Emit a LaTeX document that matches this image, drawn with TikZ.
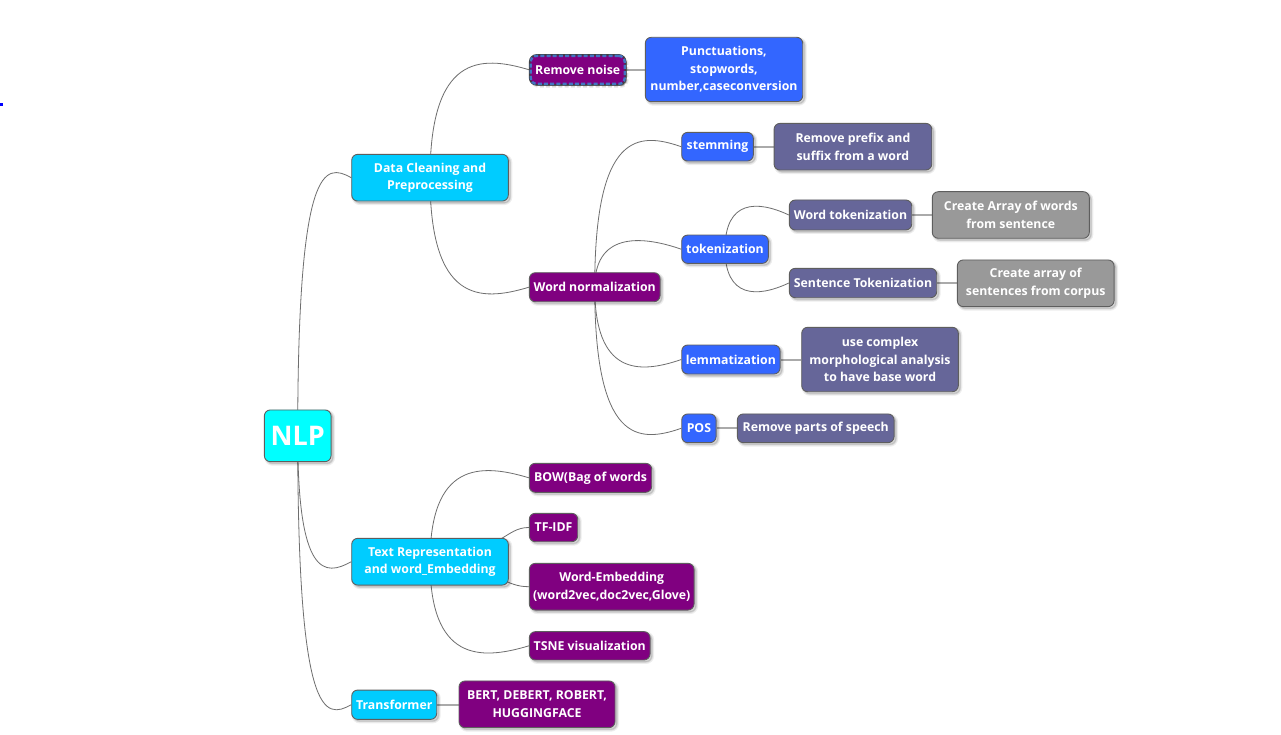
\documentclass[tikz,border=0pt]{standalone}
\usepackage{fontspec}
\setmainfont{Open Sans}
\usetikzlibrary{calc,backgrounds}
\definecolor{cyanA}{HTML}{00FFFF}
\definecolor{skyA}{HTML}{00CCFF}
\definecolor{purpA}{HTML}{800080}
\definecolor{blueA}{HTML}{3366FF}
\definecolor{slateA}{HTML}{666699}
\definecolor{greyA}{HTML}{999999}
\definecolor{edgeA}{HTML}{6E6E6E}
\definecolor{lineA}{HTML}{AAAAAA}
\definecolor{borderA}{HTML}{5E5E5E}
\definecolor{dashA}{HTML}{4274C4}
\pgfdeclarelayer{bottom}
\pgfsetlayers{bottom,background,main}
\tikzset{
  softshadow/.style={
    preaction={draw=black, draw opacity=0.07, line width=4pt, fill=black, fill opacity=0.10,
      transform canvas={shift={(2pt,-2pt)}}},
    preaction={draw=black, draw opacity=0.10, line width=1.6pt,
      transform canvas={shift={(2pt,-2pt)}}}},
  box/.style={rectangle, rounded corners=6pt, draw=borderA, line width=0.9pt,
    inner sep=0pt, text=white, align=center,
    font=\bfseries\fontsize{12.3}{17.5}\selectfont, softshadow},
  conn/.style={draw=edgeA, line width=0.8pt},
  sline/.style={draw=lineA, line width=2pt},
}
\newcommand\upedge[2]{\draw[conn] (#1.center) .. controls ($(#1.center |- #2.west)+(0,-15)$) and ($(#1.center |- #2.west)!0.5!(#2.west)+(0,-15)$) .. (#2.west);}
\newcommand\downedge[2]{\draw[conn] (#1.center) .. controls ($(#1.center |- #2.west)+(0,15)$) and ($(#1.center |- #2.west)!0.5!(#2.west)+(0,15)$) .. (#2.west);}
\newcommand\sedge[2]{\draw[sline] (#1.east) -- (#1.east -| #2.west);}
\begin{document}
\begin{tikzpicture}[x=1pt,y=-1pt]
\begin{pgfonlayer}{bottom}
\fill[white] (0,0) rectangle (1281,735);
\end{pgfonlayer}
\useasboundingbox (0,0) rectangle (1281,735);
\fill[blue] (0.3,103.5) rectangle (2.6,106);

% nodes
\node[box, fill=cyanA, minimum width=66.7pt, minimum height=51.7pt] (nlp) at (297.7,435.8) {\fontsize{27}{30}\selectfont NLP};
\node[box, fill=skyA, minimum width=156.6pt, minimum height=46.7pt] (dc) at (430,177.7) {Data Cleaning and\\Preprocessing};
\node[box, fill=purpA, minimum width=94pt, minimum height=28pt, draw=dashA, line width=2.4pt, dash pattern=on 4pt off 2.2pt,
  preaction={fill=black, fill opacity=0.35, transform canvas={shift={(2pt,-2pt)}}},
  preaction={draw=black!75, solid, line width=3.6pt}] (rn) at (577.7,69.9) {Remove noise};
\node[box, fill=blueA, minimum width=157.4pt, minimum height=64.4pt] (pu) at (724,69.5) {Punctuations,\\stopwords,\\number,caseconversion};
\node[box, fill=purpA, minimum width=130.7pt, minimum height=29pt] (wn) at (594.7,287.2) {Word normalization};
\node[box, fill=blueA, minimum width=71.6pt, minimum height=28.7pt] (st) at (717.5,146.7) {stemming};
\node[box, fill=slateA, minimum width=157.7pt, minimum height=46.7pt] (rp) at (852.9,146.7) {Remove prefix and\\suffix from a word};
\node[box, fill=blueA, minimum width=86.6pt, minimum height=28.3pt] (tk) at (725,249.2) {tokenization};
\node[box, fill=slateA, minimum width=122.4pt, minimum height=30pt] (wt) at (850.5,215) {Word tokenization};
\node[box, fill=greyA, minimum width=157pt, minimum height=46.6pt] (ca) at (1010.8,215) {Create Array of words\\from sentence};
\node[box, fill=slateA, minimum width=147.4pt, minimum height=29.4pt] (sn) at (863,283) {Sentence Tokenization};
\node[box, fill=greyA, minimum width=156.7pt, minimum height=46.7pt] (cs) at (1035.7,283.3) {Create array of\\sentences from corpus};
\node[box, fill=blueA, minimum width=98.3pt, minimum height=29pt] (lm) at (730.9,359.5) {lemmatization};
\node[box, fill=slateA, minimum width=156.6pt, minimum height=64.4pt] (uc) at (880,359.5) {use complex\\morphological analysis\\to have base word};
\node[box, fill=blueA, minimum width=34.3pt, minimum height=28.7pt] (ps) at (698.9,428.3) {POS};
\node[box, fill=slateA, minimum width=156.7pt, minimum height=28.7pt] (rs) at (815.7,428.3) {Remove parts of speech};
\node[box, fill=skyA, minimum width=156.6pt, minimum height=46.7pt] (tr) at (430,561.7) {Text Representation\\and word\_Embedding};
\node[box, fill=purpA, minimum width=122.4pt, minimum height=29pt] (bw) at (590.5,477.8) {BOW(Bag of words};
\node[box, fill=purpA, minimum width=48.4pt, minimum height=28.4pt] (tf) at (553.5,527.5) {TF-IDF};
\node[box, fill=purpA, minimum width=164.7pt, minimum height=46.7pt] (we) at (611.7,586.7) {Word-Embedding\\(word2vec,doc2vec,Glove)};
\node[box, fill=purpA, minimum width=120.7pt, minimum height=28.3pt] (ts) at (589.7,645.8) {TSNE visualization};
\node[box, fill=skyA, minimum width=85pt, minimum height=29.3pt] (tm) at (394.2,704.7) {Transformer};
\node[box, fill=purpA, minimum width=156pt, minimum height=46.7pt] (bt) at (537,704.3) {BERT, DEBERT, ROBERT,\\HUGGINGFACE};

% connectors
\begin{pgfonlayer}{background}
\upedge{nlp}{dc}
\downedge{nlp}{tr}
\downedge{nlp}{tm}
\upedge{dc}{rn}
\downedge{dc}{wn}
\upedge{wn}{st}
\upedge{wn}{tk}
\downedge{wn}{lm}
\downedge{wn}{ps}
\upedge{tk}{wt}
\downedge{tk}{sn}
\upedge{tr}{bw}
\downedge{tr}{ts}
\draw[conn] (tr.center) .. controls (505,550) and (505,527.5) .. (tf.west);
\draw[conn] (tr.center) .. controls (505,573) and (505,586.7) .. (we.west);
\sedge{rn}{pu}
\sedge{st}{rp}
\sedge{wt}{ca}
\sedge{sn}{cs}
\sedge{lm}{uc}
\sedge{ps}{rs}
\sedge{tm}{bt}
\end{pgfonlayer}
\end{tikzpicture}
\end{document}
